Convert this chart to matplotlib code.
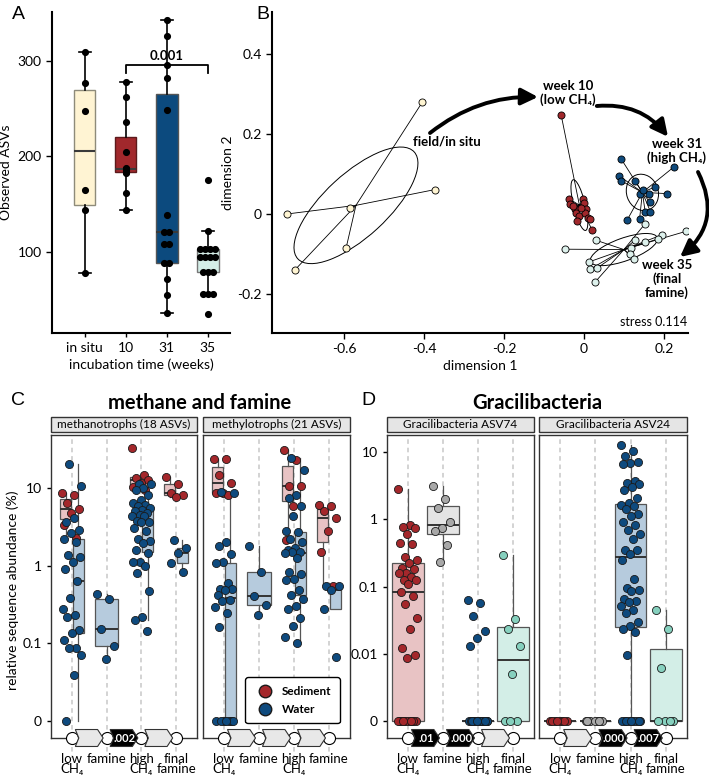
import numpy as np
import matplotlib
matplotlib.use('Agg')
import matplotlib.pyplot as plt
import matplotlib.transforms as mtransforms
from matplotlib.patches import Ellipse, Polygon, Rectangle, FancyArrowPatch
from matplotlib.lines import Line2D

plt.rcParams['font.family'] = ['Lato', 'DejaVu Sans']
plt.rcParams['axes.linewidth'] = 1.0

# ---------------- Panel A data ----------------
a_labels = ['in situ', '10', '31', '35']
a_insitu = [309, 277, 247, 165, 144, 78]
a_w10 = [278, 262, 236, 204, 188, 187, 186, 184, 183, 162, 144]
a_w31 = [343, 326, 296, 282, 248, 138, 121, 121, 108, 108, 88, 88, 72, 55, 36]
a_w35 = [175, 122, 103, 103, 103, 103, 95, 95, 95, 95, 79, 79, 79, 56, 56, 56, 35]
a_fill = ['#FFF4D3', '#A1282C', '#0C4A7E', '#D5EEE8']
a_edge = ['#8E8B7A', '#5C1A1C', '#555555', '#777777']
a_sig_label = '0.001'

# ---------------- Panel B data ----------------
b_insitu_x = [-0.404, -0.373, -0.7425, -0.722, -0.595, -0.584]
b_insitu_y = [0.280, 0.061, 0.000, -0.139, -0.086, 0.014]
b_w10_x = [-0.057, -0.0375, -0.034, -0.023, -0.019, -0.013, -0.017, -0.0025, 0.000, 0.006,
           0.002, 0.010, 0.016, 0.020, -0.008, -0.0275]
b_w10_y = [0.247, 0.038, 0.025, 0.0125, 0.0025, -0.004, -0.018, 0.038, 0.0275, 0.0125,
           0.0025, -0.010, -0.0125, -0.039, 0.015, 0.019]
b_w31_x = [0.093, 0.224, 0.087, 0.093, 0.128, 0.177, 0.2075, 0.141, 0.162, 0.164,
           0.153, 0.166, 0.108, 0.139, 0.1475]
b_w31_y = [0.1375, 0.117, 0.096, 0.083, 0.082, 0.0675, 0.051, 0.051, 0.05, 0.03,
           0.005, 0.006, -0.015, -0.012, 0.061]
b_w35_x = [0.256, 0.195, 0.185, 0.153, 0.153, 0.127, 0.118, 0.114, 0.124, 0.031,
           -0.047, 0.012, 0.016, 0.033, 0.027]
b_w35_y = [-0.043, -0.052, -0.0625, -0.024, -0.071, -0.066, -0.085, -0.100, -0.1125, -0.066,
           -0.088, -0.120, -0.1375, -0.135, -0.171]
b_colors = ['#FFF5D2', '#A1282C', '#0F4A7C', '#DDF1EC']
b_xticks = [-0.6, -0.4, -0.2, 0, 0.2]
b_xticklabels = ['-0.6', '-0.4', '-0.2', '0', '0.2']
b_yticks = [-0.2, 0, 0.2, 0.4]
b_yticklabels = ['-0.2', '0', '0.2', '0.4']

# ---------------- Panel C data (relative abundance, %) ----------------
c_labels_mt = ['low\nCH₄', 'famine', 'high\nCH₄', 'final\nfamine']
c_labels_ml = ['low\nCH₄', 'famine', 'high\nCH₄', 'famine']
mt_low_sed = [8.6, 8.2, 6.5, 5.4, 4.7, 3.3, 2.26]
mt_low_wat = [20.6, 10.5, 4.1, 3.7, 2.9, 2.6, 2.2, 2.0, 1.38, 1.3, 1.1, 0.9, 0.64, 0.38, 0.28,
              0.23, 0.22, 0.15, 0.135, 0.11, 0.088, 0.086, 0.07, 0.039, 0]
mt_fam_wat = [0.43, 0.37, 0.155, 0.093, 0.062]
mt_high_sed = [32.8, 14.6, 13.5, 12.8, 11.5, 10.2, 9.5]
mt_high_wat = [11.4, 11.4, 10.0, 9.4, 8.0, 7.0, 6.5, 6.0, 5.8, 5.5, 5.2, 5.0, 4.7, 4.5, 4.3, 4.3,
               3.8, 3.7, 3.6, 3.05, 2.8, 2.2, 2.05, 1.95, 1.6, 1.45, 1.1, 1.1, 1.0, 0.81, 0.47,
               0.22, 0.2, 0.145]
mt_final_sed = [13.9, 11.4, 8.6, 8.2, 7.6]
mt_final_wat = [2.15, 1.68, 1.45, 1.08, 0.82]
ml_low_sed = [23.7, 23.7, 14.9, 11.6, 8.6, 8.6, 8.0]
ml_low_wat = [8.8, 8.6, 2.0, 1.8, 1.4, 1.1, 1.08, 0.6, 0.5, 0.5, 0.49, 0.42, 0.36, 0.35, 0.29,
              0.245, 0.16, 0, 0, 0, 0, 0, 0, 0]
ml_fam_wat = [1.8, 0.82, 0.41, 0.31, 0.23]
ml_high_sed = [30.6, 23.0, 10.7, 10.5, 5.9, 2.15]
ml_high_wat = [24.4, 17.2, 8.2, 7.4, 5.8, 4.4, 2.8, 2.7, 2.2, 2.0, 1.7, 1.6, 1.5, 1.48, 1.45,
               1.25, 0.84, 0.78, 0.67, 0.66, 0.49, 0.42, 0.37, 0.3, 0.28, 0.21, 0.168, 0.12, 0.1]
ml_final_sed = [6.1, 5.9, 5.0, 4.1, 2.76, 1.5, 0.55]
ml_final_wat = [0.55, 0.54, 0.49, 0.28, 0.066]
c_p_mt = ['', '.002', '']
c_p_ml = ['', '', '']

# ---------------- Panel D data ----------------
d_labels = ['low\nCH₄', 'famine', 'high\nCH₄', 'final\nfamine']
g74_low = [2.85, 0.83, 0.78, 0.74, 0.6, 0.44, 0.43, 0.27, 0.25, 0.22, 0.19, 0.18, 0.16, 0.16,
           0.14, 0.126, 0.126, 0.11, 0.083, 0.072, 0.055, 0.034, 0.023, 0.012, 0.0096, 0.0085,
           0, 0, 0, 0, 0, 0, 0, 0, 0, 0, 0]
g74_fam = [3.15, 2.0, 1.47, 0.9, 0.75, 0.68, 0.42, 0.23]
g74_high = [0.062, 0.056, 0.036, 0.022, 0.017, 0.013,
            0, 0, 0, 0, 0, 0, 0, 0, 0, 0, 0, 0, 0, 0, 0, 0, 0, 0, 0, 0]
g74_final = [0.29, 0.033, 0.023, 0.013, 0.005, 0, 0, 0]
g24_low = [0, 0, 0, 0, 0, 0, 0, 0]
g24_fam = [0, 0, 0, 0, 0, 0, 0]
g24_high = [12.6, 10.5, 8.6, 7.1, 6.8, 6.6, 3.65, 3.45, 3.3, 3.0, 2.7, 2.1, 1.74, 1.64, 1.55,
            1.42, 1.2, 1.1, 0.9, 0.83, 0.7, 0.6, 0.5, 0.35, 0.35, 0.3, 0.25, 0.13, 0.094, 0.089,
            0.085, 0.065, 0.06, 0.058, 0.051, 0.045, 0.04, 0.03, 0.026, 0.023, 0.021, 0.0097,
            0, 0, 0, 0, 0, 0, 0, 0, 0, 0]
g24_final = [0.044, 0.023, 0.0062, 0, 0, 0, 0]
d_p_74 = ['.01', '.000', '']
d_p_24 = ['', '.000', '.007']

pt_col = {'sed': '#A4272B', 'wat': '#0E4A7E', 'fam': '#A8A8A8', 'fin': '#86D0BE'}
box_col = {'sed': '#E8C3C4', 'wat': '#B6CBDD', 'fam': '#E4E4E4', 'fin': '#D3EEE7'}

W, H = 709, 780
fig = plt.figure(figsize=(W / 100, H / 100), dpi=100)


def rect(l, t, r, b):
    return [l / W, 1 - b / H, (r - l) / W, (b - t) / H]


# ================= Panel A =================
axA = fig.add_axes(rect(52, 12, 230, 333))
a_data = [a_insitu, a_w10, a_w31, a_w35]
bp = axA.boxplot(a_data, positions=[1, 2, 3, 4], widths=0.52, whis=1.6, patch_artist=True,
                 showfliers=False, capwidths=0.3, zorder=2,
                 medianprops=dict(color='#3a3a3a', lw=1.5),
                 whiskerprops=dict(color='black', lw=1.2),
                 capprops=dict(color='black', lw=1.2))
for patch, fc, ec in zip(bp['boxes'], a_fill, a_edge):
    patch.set_facecolor(fc)
    patch.set_edgecolor(ec)
    patch.set_linewidth(1.0)


def dup_offsets(vals, step):
    counts = {}
    for v in vals:
        counts[v] = counts.get(v, 0) + 1
    seen = {}
    offs = []
    for v in vals:
        c = counts[v]
        k = seen.get(v, 0)
        seen[v] = k + 1
        offs.append((k - (c - 1) / 2) * step)
    return np.array(offs)


for i, vals in enumerate(a_data):
    xs = i + 1 + dup_offsets(vals, 0.12)
    axA.scatter(xs, vals, s=17, color='black', zorder=4)

# significance bracket
axA.plot([2, 2, 4, 4], [287, 296, 296, 287], color='black', lw=1.3, zorder=3)
axA.text(3, 299, a_sig_label, ha='center', va='bottom', fontsize=9.5, weight='bold')

axA.set_xlim(0.2, 4.54)
axA.set_ylim(15, 351)
axA.set_xticks([1, 2, 3, 4])
axA.set_xticklabels(a_labels, fontsize=10)
axA.set_yticks([100, 200, 300])
axA.tick_params(axis='y', labelsize=10, length=4, width=1)
axA.tick_params(axis='x', length=3, width=1)
for s in ['top', 'right']:
    axA.spines[s].set_visible(False)
for s in ['left', 'bottom']:
    axA.spines[s].set_linewidth(1.5)
axA.set_ylabel('Observed ASVs', fontsize=10, labelpad=4)
axA.set_xlabel('incubation time (weeks)', fontsize=10, labelpad=3)

# ================= Panel B =================
axB = fig.add_axes(rect(272, 12, 688, 333))
b_groups = [(b_insitu_x, b_insitu_y), (b_w10_x, b_w10_y), (b_w31_x, b_w31_y), (b_w35_x, b_w35_y)]
for (gx, gy), col in zip(b_groups, b_colors):
    xs = np.array(gx)
    ys = np.array(gy)
    cx, cy = xs.mean(), ys.mean()
    for x, y in zip(xs, ys):
        axB.plot([cx, x], [cy, y], color='black', lw=0.6, zorder=2)
    cov = np.cov(xs, ys)
    vals, vecs = np.linalg.eigh(cov)
    order = vals.argsort()[::-1]
    vals = vals[order]
    vecs = vecs[:, order]
    ang = np.degrees(np.arctan2(vecs[1, 0], vecs[0, 0]))
    axB.add_patch(Ellipse((cx, cy), 2 * np.sqrt(vals[0]), 2 * np.sqrt(vals[1]), angle=ang,
                          fill=False, ec='black', lw=0.7, zorder=2))
    axB.scatter(xs, ys, s=26, color=col, edgecolors='black', linewidths=0.6, zorder=3)

axB.set_xlim(-0.78, 0.26)
axB.set_ylim(-0.2975, 0.505)
axB.set_xticks(b_xticks)
axB.set_xticklabels(b_xticklabels, fontsize=10)
axB.set_yticks(b_yticks)
axB.set_yticklabels(b_yticklabels, fontsize=10)
axB.tick_params(length=4, width=1)
for s in ['top', 'right']:
    axB.spines[s].set_visible(False)
for s in ['left', 'bottom']:
    axB.spines[s].set_linewidth(1.5)
axB.set_xlabel('dimension 1', fontsize=10, labelpad=3)
axB.set_ylabel('dimension 2', fontsize=10, labelpad=2)

akw = dict(arrowstyle='-|>,head_length=1.0,head_width=0.5', mutation_scale=10, lw=2.8,
           color='black', shrinkA=0, shrinkB=0, clip_on=False, zorder=5)
axB.add_patch(FancyArrowPatch((-0.385, 0.2025), (-0.115, 0.2925), connectionstyle='arc3,rad=-0.18', **akw))
axB.add_patch(FancyArrowPatch((0.032, 0.27), (0.21, 0.193), connectionstyle='arc3,rad=-0.27', **akw))
axB.add_patch(FancyArrowPatch((0.285, 0.105), (0.24, -0.1075), connectionstyle='arc3,rad=-0.4', **akw))

tkw = dict(ha='center', va='center', fontsize=9.5, weight='bold', linespacing=1.1)
axB.text(-0.04, 0.302, 'week 10\n(low CH₄)', **tkw)
axB.text(-0.3425, 0.18, 'field/in situ', **tkw)
axB.text(0.232, 0.157, 'week 31\n(high CH₄)', **tkw)
axB.text(0.2075, -0.162, 'week 35\n(final\nfamine)', **tkw)
axB.text(0.258, -0.27, 'stress 0.114', ha='right', va='center', fontsize=9)

# ================= Panels C and D =================


def draw_facet(ax, cats, labels, floor, ylim, single_w, pvals, show_y, yticks, yticklabels, strip):
    trans = mtransforms.blended_transform_factory(ax.transData, ax.transAxes)
    dash = (0, (3, 2.5))
    for k in range(1, 5):
        ax.axvline(k, color='#C8C8C8', lw=1.1, ls=dash, zorder=0)
        ax.plot([k, k], [-0.03, -0.065], transform=trans, color='#C8C8C8', lw=1.1, ls=dash,
                clip_on=False, zorder=0)
    for i, groups in enumerate(cats):
        pos = i + 1
        n = len(groups)
        for j, (key, vals) in enumerate(groups):
            v = np.array(vals, float)
            lv = np.log10(np.where(v > 0, v, floor))
            if n == 1:
                bpos, w = pos, single_w
            else:
                bpos, w = pos + (j - 0.5) * 0.36, 0.32
            bp = ax.boxplot([lv], positions=[bpos], widths=w, whis=1.5, patch_artist=True,
                            showfliers=False, showcaps=False, manage_ticks=False, zorder=2,
                            medianprops=dict(color='#333333', lw=1.4),
                            whiskerprops=dict(color='#555555', lw=0.9))
            for p in bp['boxes']:
                p.set_facecolor(box_col[key])
                p.set_edgecolor('#555555')
                p.set_linewidth(0.9)
            idx = np.arange(len(lv))
            offs = ((idx * 0.618034 + 0.37 * j) % 1 - 0.5) * 0.56
            ax.scatter(pos + offs, lv, s=34, color=pt_col[key], edgecolors='#1a1a1a',
                       linewidths=0.6, zorder=4)
    # chevrons
    h = 0.028
    for i, p in enumerate(pvals):
        x0 = i + 1 + 0.1
        x1 = i + 2 - 0.1
        tip, notch = 0.16, 0.1
        verts = [(x0, -h), (x1 - tip, -h), (x1, 0), (x1 - tip, h), (x0, h), (x0 + notch, 0)]
        sig = p != ''
        ax.add_patch(Polygon(verts, closed=True, transform=trans,
                             facecolor='black' if sig else '#E8E8E8', edgecolor='#333333',
                             lw=0.8, clip_on=False, zorder=7))
        if sig:
            ax.text((x0 + x1) / 2 + 0.02, 0, p, transform=trans, color='white', weight='bold',
                    fontsize=8, ha='center', va='center', zorder=8, clip_on=False)
    ax.scatter([1, 2, 3, 4], [0, 0, 0, 0], transform=trans, s=75, color='white',
               edgecolors='black', linewidths=0.8, clip_on=False, zorder=6)
    ax.set_xlim(0.4, 4.6)
    ax.set_ylim(*ylim)
    ax.set_xticks([1, 2, 3, 4])
    ax.set_xticklabels(labels, fontsize=9.5, va='top')
    for t in ax.get_xticklabels():
        t.set_linespacing(0.88)
    ax.tick_params(axis='x', length=0, pad=10.5)
    ax.set_yticks(yticks)
    if show_y:
        ax.set_yticklabels(yticklabels, fontsize=10)
        ax.tick_params(axis='y', length=3, width=1)
    else:
        ax.set_yticklabels([])
        ax.tick_params(axis='y', length=0)
    for s in ax.spines.values():
        s.set_linewidth(1.0)
        s.set_color('#333333')
    ax.add_patch(Rectangle((0, 1.01), 1, 0.05, transform=ax.transAxes, facecolor='#E5E5E5',
                           edgecolor='#333333', lw=1.0, clip_on=False))
    ax.text(0.5, 1.035, strip, transform=ax.transAxes, ha='center', va='center', fontsize=8.5)


c_ylim = (-2.219, 1.682)
d_ylim = (-3.253, 1.253)
c_yt = [-2, -1, 0, 1]
c_ytl = ['0', '0.1', '1', '10']
d_yt = [-3, -2, -1, 0, 1]
d_ytl = ['0', '0.01', '0.1', '1', '10']

axC1 = fig.add_axes(rect(51, 435, 197, 738))
axC2 = fig.add_axes(rect(203, 435, 350, 738))
axD1 = fig.add_axes(rect(387, 435, 534, 738))
axD2 = fig.add_axes(rect(539, 435, 687, 738))

mt_cats = [[('sed', mt_low_sed), ('wat', mt_low_wat)], [('wat', mt_fam_wat)],
           [('sed', mt_high_sed), ('wat', mt_high_wat)], [('sed', mt_final_sed), ('wat', mt_final_wat)]]
ml_cats = [[('sed', ml_low_sed), ('wat', ml_low_wat)], [('wat', ml_fam_wat)],
           [('sed', ml_high_sed), ('wat', ml_high_wat)], [('sed', ml_final_sed), ('wat', ml_final_wat)]]
g74_cats = [[('sed', g74_low)], [('fam', g74_fam)], [('wat', g74_high)], [('fin', g74_final)]]
g24_cats = [[('sed', g24_low)], [('fam', g24_fam)], [('wat', g24_high)], [('fin', g24_final)]]

draw_facet(axC1, mt_cats, c_labels_mt, 0.01, c_ylim, 0.68, c_p_mt, True, c_yt, c_ytl,
           'methanotrophs (18 ASVs)')
draw_facet(axC2, ml_cats, c_labels_ml, 0.01, c_ylim, 0.68, c_p_ml, False, c_yt, c_ytl,
           'methylotrophs (21 ASVs)')
draw_facet(axD1, g74_cats, d_labels, 0.001, d_ylim, 0.9, d_p_74, True, d_yt, d_ytl,
           'Gracilibacteria ASV74')
draw_facet(axD2, g24_cats, d_labels, 0.001, d_ylim, 0.9, d_p_24, False, d_yt, d_ytl,
           'Gracilibacteria ASV24')

handles = [Line2D([], [], marker='o', ls='', markersize=9, markerfacecolor=pt_col['sed'],
                  markeredgecolor='#1a1a1a', label='Sediment'),
           Line2D([], [], marker='o', ls='', markersize=9, markerfacecolor=pt_col['wat'],
                  markeredgecolor='#1a1a1a', label='Water')]
leg = axC2.legend(handles=handles, loc='lower right', bbox_to_anchor=(0.97, 0.03), frameon=True,
                  fancybox=True, edgecolor='black', prop=dict(weight='bold', size=8.5),
                  handletextpad=0.4, borderpad=0.7, labelspacing=0.6, framealpha=1)
leg.get_frame().set_linewidth(1.0)
leg.set_zorder(10)

fig.text(13 / W, 1 - 590 / H, 'relative sequence abundance (%)', rotation=90, ha='center',
         va='center', fontsize=10)
fig.text(200 / W, 1 - 403 / H, 'methane and famine', ha='center', va='center', fontsize=14.5,
         weight='bold')
fig.text(537 / W, 1 - 403 / H, 'Gracilibacteria', ha='center', va='center', fontsize=14.5,
         weight='bold')

for lab, px, py in [('A', 12, 6), ('B', 256, 6), ('C', 11, 392), ('D', 361, 392)]:
    fig.text(px / W, 1 - py / H, lab, ha='left', va='top', fontsize=14, family='Liberation Sans')

fig.savefig('out.png', dpi=100)
